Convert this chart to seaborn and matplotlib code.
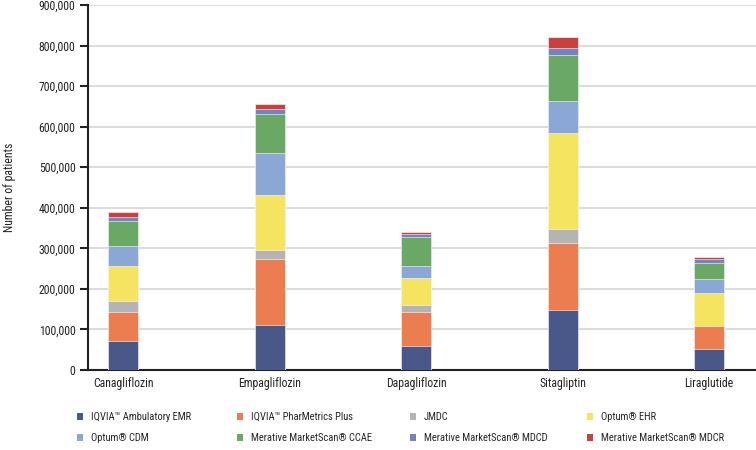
import matplotlib
matplotlib.use("Agg")
import matplotlib.pyplot as plt
import matplotlib.ticker as mticker
from matplotlib import font_manager as fm
from matplotlib.patches import Patch
import numpy as np
import pandas as pd
import seaborn as sns

drugs = ["Canagliflozin", "Empagliflozin", "Dapagliflozin", "Sitagliptin", "Liraglutide"]
sources = ["IQVIA\u2122 Ambulatory EMR", "IQVIA\u2122 PharMetrics Plus", "JMDC", "Optum\u00ae EHR",
           "Optum\u00ae CDM", "Merative MarketScan\u00ae CCAE", "Merative MarketScan\u00ae MDCD",
           "Merative MarketScan\u00ae MDCR"]
iqvia_emr = [72000, 111000, 60000, 149000, 52000]
iqvia_pharmetrics = [72000, 163000, 83000, 163000, 56000]
jmdc = [25500, 21500, 16500, 36000, 0]
optum_ehr = [87000, 136000, 66500, 237000, 83000]
optum_cdm = [49000, 104000, 31000, 79000, 33000]
ms_ccae = [63000, 95000, 71500, 113000, 39500]
ms_mdcd = [8000, 12500, 6500, 17000, 10500]
ms_mdcr = [12500, 12500, 5000, 26000, 5500]
colors = ["#4a5889", "#ec7d50", "#b4b4b4", "#f4e460", "#8aa7d6", "#6aa865", "#7783c0", "#c9403f"]

series = [iqvia_emr, iqvia_pharmetrics, jmdc, optum_ehr, optum_cdm, ms_ccae, ms_mdcd, ms_mdcr]

sns.set_theme(style="white")

# pick a condensed sans font if one is installed
cond = None
prefs = ["roboto condensed", "liberation sans narrow", "dejavu sans condensed", "open sans condensed",
         "noto sans condensed"]
cands = []
for f in fm.fontManager.ttflist:
    fn = f.fname.lower().replace("-", " ").replace("_", " ")
    nm = f.name.lower()
    if f.style != "normal" or f.weight not in (400, "normal", "regular"):
        continue
    if "condensed" in fn or "narrow" in fn or "condensed" in nm or "narrow" in nm or \
            (f.stretch not in ("normal", 500) and "semi" not in str(f.stretch)):
        cands.append(f)
best = None
for p in prefs:
    for f in cands:
        key = (f.name + " " + f.fname).lower().replace("-", " ").replace("_", " ")
        if all(w in key for w in p.split()) or (p.split()[0] in key and ("condensed" in key or "narrow" in key)):
            best = f
            break
    if best:
        break
if best is None and cands:
    best = cands[0]
if best is not None:
    fm.fontManager.addfont(best.fname)
    cond = fm.FontProperties(fname=best.fname).get_name()
    plt.rcParams["font.family"] = [cond, "DejaVu Sans"]
    if cond.lower() == "dejavu sans":
        plt.rcParams["font.stretch"] = "condensed"
else:
    plt.rcParams["font.family"] = ["Liberation Sans", "DejaVu Sans"]

fs = 8.5
lfs = 7.6
fig = plt.figure(figsize=(7.56, 4.5), dpi=100)
ax = fig.add_axes([88 / 756, (450 - 370) / 450, 1 - 88 / 756, (370 - 5) / 450])

cum = np.cumsum(np.array(series), axis=0)
for i in range(len(series) - 1, -1, -1):
    df = pd.DataFrame({"drug": drugs, "value": cum[i]})
    sns.barplot(data=df, x="drug", y="value", color=colors[i], width=0.205,
                ax=ax, saturation=1, edgecolor="white", linewidth=0.4, zorder=3)

ax.set_xlim(-0.24, 4.32)
ax.set_ylim(0, 900000)
ax.yaxis.set_major_locator(mticker.MultipleLocator(100000))
ax.yaxis.set_major_formatter(mticker.FuncFormatter(lambda v, p: f"{int(v):,}"))
ax.grid(axis="y", color="#dcdcdc", linewidth=1.5, zorder=0)
ax.set_axisbelow(True)
for s in ["top", "right"]:
    ax.spines[s].set_visible(False)
for s in ["left", "bottom"]:
    ax.spines[s].set_color("#222222")
    ax.spines[s].set_linewidth(1.5)
ax.tick_params(axis="y", which="major", left=True, length=6, width=1.5, color="#222222",
               labelsize=fs, labelcolor="#222222", pad=3)
ax.tick_params(axis="x", bottom=False, length=0, labelsize=fs, labelcolor="#222222", pad=5)
ax.set_xlabel("")
ax.set_ylabel("Number of patients", fontsize=fs, color="#222222")
ax.yaxis.set_label_coords(-72 / 668, 0.5)

proxies = [Patch(facecolor=c, edgecolor="none") for c in colors]
col_x = [77, 237, 410, 587]
for j in range(4):
    h = [proxies[j], proxies[j + 4]]
    l = [sources[j], sources[j + 4]]
    fig.legend(h, l, loc="upper left", bbox_to_anchor=(col_x[j] / 756, 1 - 412 / 450),
               frameon=False, fontsize=lfs, handlelength=0.6, handleheight=0.6,
               handletextpad=0.7, labelspacing=1.05, borderaxespad=0, borderpad=0)

fig.savefig("out.png", dpi=100)
